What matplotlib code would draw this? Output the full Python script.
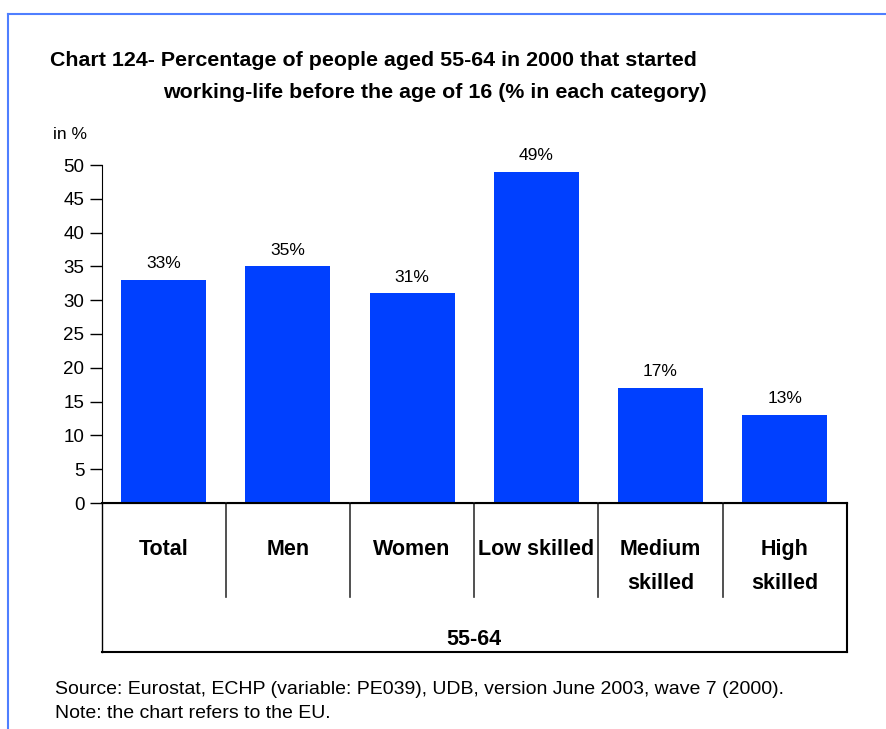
import matplotlib.pyplot as plt
from matplotlib.lines import Line2D

categories = ["Total", "Men", "Women", "Low skilled", "Medium\nskilled", "High\nskilled"]
values = [33, 35, 31, 49, 17, 13]
group_label = "55-64"

W, H = 887, 729
sans = ["Liberation Sans", "DejaVu Sans"]

fig = plt.figure(figsize=(W / 100, H / 100), dpi=100)

# blue page frame (top and left)
fig.add_artist(Line2D([8 / W, 8 / W], [0, 1 - 14 / H], color="#4f7fff", lw=1.5))
fig.add_artist(Line2D([8 / W, 1], [1 - 14 / H, 1 - 14 / H], color="#4f7fff", lw=1.5))

# title
fig.text(50 / W, 1 - 60 / H, "Chart 124- Percentage of people aged 55-64 in 2000 that started",
         family=sans, fontsize=15.4, fontweight="bold", va="center", ha="left")
fig.text(163 / W, 1 - 92 / H, "working-life before the age of 16 (% in each category)",
         family=sans, fontsize=15.4, fontweight="bold", va="center", ha="left")

# axes
x0, x1 = 101.7, 846.7
y0, y50 = 503, 165
ax = fig.add_axes([x0 / W, 1 - y0 / H, (x1 - x0) / W, (y0 - y50) / H])
xs = range(len(values))
ax.bar(xs, values, width=0.685, color="#0040ff")
ax.set_xlim(-0.5, len(values) - 0.5)
ax.set_ylim(0, 50)
ax.set_yticks(range(0, 51, 5))
for lab in ax.get_yticklabels():
    lab.set_family(sans)
ax.tick_params(axis="y", direction="out", length=9, labelsize=13.5, width=1)
ax.tick_params(axis="x", length=0, labelbottom=False)
for s in ["top", "right"]:
    ax.spines[s].set_visible(False)

for x, v in zip(xs, values):
    ax.text(x, v + 1.3, f"{v}%", ha="center", va="bottom", family=sans, fontsize=12.5)

ax.text(-0.065, 1.09, "in %", transform=ax.transAxes, family=sans, fontsize=12.5,
        ha="left", va="center")

# category box below the axis
px = 50 / (y0 - y50)
box_bottom = (y0 - 652) * px
sep_bottom = (y0 - 597) * px
n = len(values)
ax.plot([-0.5, -0.5], [0, box_bottom], color="black", lw=1, clip_on=False)
ax.plot([n - 0.5, n - 0.5], [0, box_bottom], color="black", lw=1.5, clip_on=False)
ax.plot([-0.5, n - 0.5], [box_bottom, box_bottom], color="black", lw=1.5, clip_on=False)
ax.plot([-0.5, n - 0.5], [0, 0], color="black", lw=1.5, clip_on=False)
for i in range(1, n):
    ax.plot([i - 0.5, i - 0.5], [0, sep_bottom], color="#333333", lw=1.2, clip_on=False)

for x, c in zip(xs, categories):
    for k, line in enumerate(c.split("\n")):
        ax.text(x, (y0 - 555 - 34 * k) * px, line, ha="center", va="baseline",
                family=sans, fontsize=15.5, fontweight="bold")

ax.text((n - 1) / 2, (y0 - 645) * px, group_label, ha="center", va="baseline",
        family=sans, fontsize=15.5, fontweight="bold")

# source note
fig.text(55 / W, 1 - 690 / H, "Source: Eurostat, ECHP (variable: PE039), UDB, version June 2003, wave 7 (2000).",
         family=sans, fontsize=14, va="center", ha="left")
fig.text(55 / W, 1 - 713 / H, "Note: the chart refers to the EU.",
         family=sans, fontsize=14, va="center", ha="left")

fig.savefig("out.png", dpi=100)
